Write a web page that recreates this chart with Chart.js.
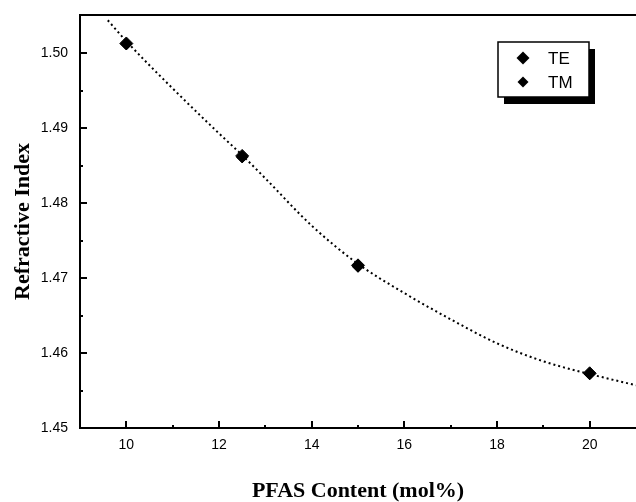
<!DOCTYPE html>
<html>
<head>
<meta charset="utf-8">
<script src="https://cdn.jsdelivr.net/npm/chart.js@4"></script>
<style>
  html, body { margin: 0; padding: 0; background: #fff; }
  #wrap { width: 636px; height: 502px; }
</style>
</head>
<body>
<div id="wrap"><canvas id="chart" width="636" height="502"></canvas></div>
<script>
// measured points
const pfasContent = [10, 12.5, 15, 20];
const teIndex = [1.5013, 1.4863, 1.4717, 1.4573];
const tmIndex = [1.5012, 1.4861, 1.4715, 1.4572];

// dotted fit curve
const fitX = [9.6, 10, 11, 12, 12.5, 13, 14, 15, 16, 17, 18, 19, 20, 21];
const fitY = [1.5044, 1.5016, 1.4953, 1.4893, 1.4864, 1.4833, 1.4770, 1.4719, 1.4680, 1.4645, 1.4613, 1.4589, 1.4572, 1.4557];

const xTicks = [10, 12, 14, 16, 18, 20];
const yTicks = [1.45, 1.46, 1.47, 1.48, 1.49, 1.50];

const toXY = (xs, ys) => xs.map((x, i) => ({ x: x, y: ys[i] }));

// inward major + minor ticks, drawn from the scales
const innerTicks = {
  id: 'innerTicks',
  afterDraw(chart) {
    const ctx = chart.ctx;
    const area = chart.chartArea;
    const xs = chart.scales.x, ys = chart.scales.y;
    ctx.save();
    ctx.strokeStyle = '#000';
    ctx.lineWidth = 2;
    const xMinor = xTicks.slice(0, -1).map((v, i) => (v + xTicks[i + 1]) / 2);
    const yMinor = yTicks.slice(0, -1).map((v, i) => (v + yTicks[i + 1]) / 2);
    ctx.beginPath();
    xTicks.forEach(v => {
      const px = Math.round(xs.getPixelForValue(v));
      ctx.moveTo(px, area.bottom); ctx.lineTo(px, area.bottom - 7);
    });
    xMinor.forEach(v => {
      const px = Math.round(xs.getPixelForValue(v));
      ctx.moveTo(px, area.bottom); ctx.lineTo(px, area.bottom - 3);
    });
    yTicks.forEach(v => {
      const py = Math.round(ys.getPixelForValue(v));
      ctx.moveTo(area.left, py); ctx.lineTo(area.left + 7, py);
    });
    yMinor.forEach(v => {
      const py = Math.round(ys.getPixelForValue(v));
      ctx.moveTo(area.left, py); ctx.lineTo(area.left + 3, py);
    });
    ctx.stroke();
    ctx.restore();
  }
};

// boxed legend with drop shadow
const shadowLegend = {
  id: 'shadowLegend',
  afterDraw(chart) {
    const ctx = chart.ctx;
    const area = chart.chartArea;
    const bx = area.right - 138, by = area.top + 27, bw = 91, bh = 55;
    ctx.save();
    ctx.fillStyle = '#000';
    ctx.fillRect(bx + 6, by + 7, bw, bh);
    ctx.fillStyle = '#fff';
    ctx.fillRect(bx, by, bw, bh);
    ctx.strokeStyle = '#000';
    ctx.lineWidth = 1.5;
    ctx.strokeRect(bx, by, bw, bh);
    const items = chart.data.datasets.filter(d => d.label);
    items.forEach((d, i) => {
      const cy = by + 16 + i * 24;
      const cx = bx + 25;
      const r = i === 0 ? 6.5 : 5.5;
      ctx.fillStyle = '#000';
      ctx.beginPath();
      ctx.moveTo(cx, cy - r); ctx.lineTo(cx + r, cy); ctx.lineTo(cx, cy + r); ctx.lineTo(cx - r, cy);
      ctx.closePath();
      ctx.fill();
      ctx.font = '17px "Liberation Sans", Arial, sans-serif';
      ctx.textBaseline = 'middle';
      ctx.textAlign = 'left';
      ctx.fillText(d.label, bx + 50, cy + 1);
    });
    ctx.restore();
  }
};

const data = {
  datasets: [
    {
      label: 'TE',
      data: toXY(pfasContent, teIndex),
      showLine: false,
      pointStyle: 'rectRot',
      pointRadius: 6.5,
      backgroundColor: '#000',
      borderColor: '#000',
      order: 1
    },
    {
      label: 'TM',
      data: toXY(pfasContent, tmIndex),
      showLine: false,
      pointStyle: 'rectRot',
      pointRadius: 5.5,
      backgroundColor: '#000',
      borderColor: '#000',
      order: 2
    },
    {
      data: toXY(fitX, fitY),
      showLine: true,
      pointRadius: 0,
      borderColor: '#000',
      borderWidth: 2,
      borderDash: [2, 3],
      cubicInterpolationMode: 'monotone',
      fill: false,
      order: 3
    }
  ]
};

const noPad = s => { s.paddingTop = 0; s.paddingBottom = 0; s.paddingLeft = 0; s.paddingRight = 0; };

const config = {
  type: 'scatter',
  data: data,
  options: {
    responsive: false,
    animation: false,
    layout: { padding: 0, autoPadding: false },
    plugins: {
      legend: { display: false },
      tooltip: { enabled: false }
    },
    scales: {
      x: {
        type: 'linear',
        position: 'bottom',
        min: 9,
        max: 21,
        afterFit: s => { s.height = 74; noPad(s); },
        afterBuildTicks: s => { s.ticks = xTicks.map(v => ({ value: v })); },
        grid: { display: false, drawTicks: false },
        border: { display: true, color: '#000', width: 2 },
        ticks: {
          padding: 9,
          color: '#000',
          font: { family: '"Liberation Sans", Arial, sans-serif', size: 14 },
          callback: v => String(v)
        },
        title: {
          display: true,
          text: 'PFAS Content (mol%)',
          color: '#000',
          padding: { top: 0, bottom: 0 },
          font: { family: '"Liberation Serif", "Times New Roman", serif', size: 22, weight: 'bold', lineHeight: 1 }
        }
      },
      xTop: {
        type: 'linear',
        position: 'top',
        min: 9,
        max: 21,
        afterFit: s => { s.height = 15; noPad(s); },
        grid: { display: false, drawTicks: false },
        border: { display: true, color: '#000', width: 2 },
        ticks: { display: false }
      },
      y: {
        type: 'linear',
        position: 'left',
        min: 1.45,
        max: 1.5051,
        afterFit: s => { s.width = 80; noPad(s); },
        afterBuildTicks: s => { s.ticks = yTicks.map(v => ({ value: v })); },
        grid: { display: false, drawTicks: false },
        border: { display: true, color: '#000', width: 2 },
        ticks: {
          padding: 12,
          color: '#000',
          font: { family: '"Liberation Sans", Arial, sans-serif', size: 14 },
          callback: v => v.toFixed(2)
        },
        title: {
          display: true,
          text: 'Refractive Index',
          color: '#000',
          padding: { top: 12, bottom: 0 },
          font: { family: '"Liberation Serif", "Times New Roman", serif', size: 22, weight: 'bold', lineHeight: 1 }
        }
      }
    }
  },
  plugins: [innerTicks, shadowLegend]
};

const ctx = document.getElementById('chart').getContext('2d');
window.refChart = new Chart(ctx, config);
</script>
</body>
</html>
